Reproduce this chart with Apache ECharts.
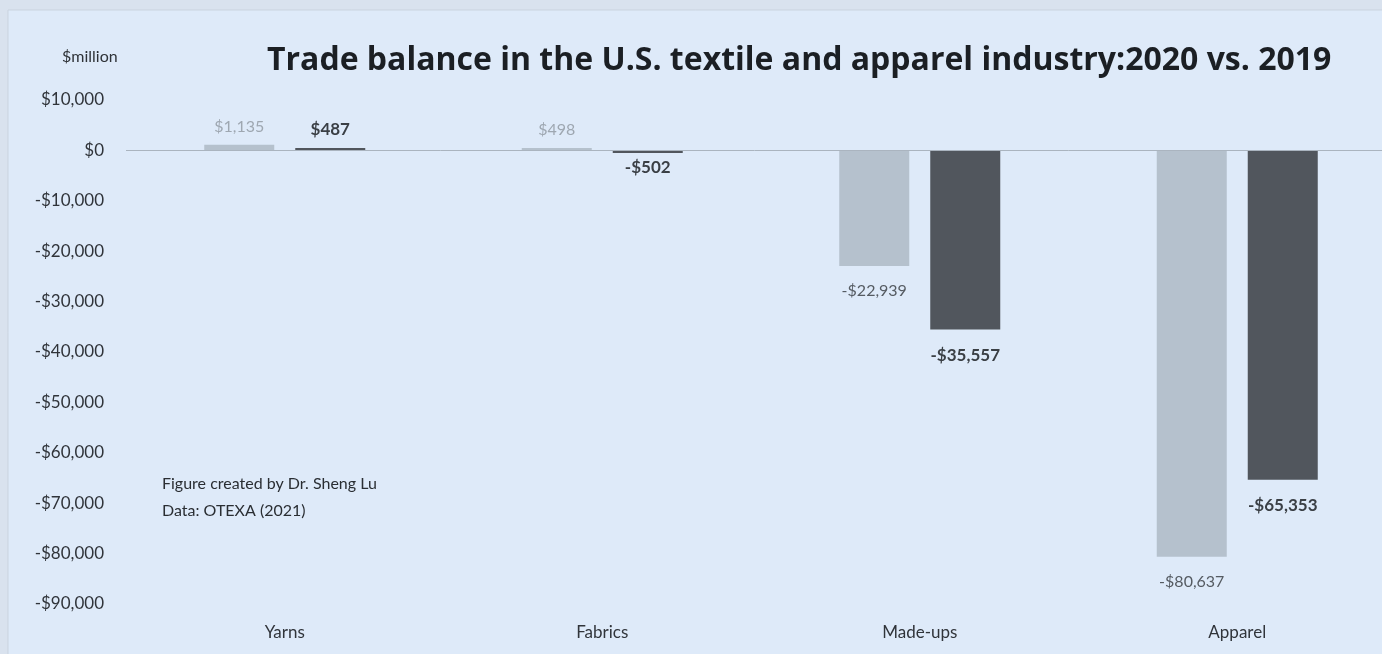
<!DOCTYPE html>
<html>
<head>
<meta charset="utf-8">
<script src="https://cdn.jsdelivr.net/npm/echarts@6/dist/echarts.min.js"></script>
<style>
  html, body { margin: 0; padding: 0; background: #d9e2ee; }
  #chart { width: 1382px; height: 654px; }
</style>
</head>
<body>
<div id="chart"></div>
<script>
// Trade balance by segment, $ million
const categories = ['Yarns', 'Fabrics', 'Made-ups', 'Apparel'];
const balance2019 = [1135, 498, -22939, -80637];
const balance2020 = [487, -502, -35557, -65353];
const yTickMin = -90000;
const yTickMax = 10000;
const yTickStep = 10000;

const FONT = 'Lato, "Open Sans", sans-serif';

function money(v) {
  const s = '$' + Math.abs(v).toLocaleString('en-US');
  return v < 0 ? '-' + s : s;
}

// value labels sit outside the bar end; tiny bars get a tighter gap
function withLabels(values, lightSeries) {
  return values.map(v => {
    const small = Math.abs(v) < 5000;
    return {
      value: v,
      label: {
        position: v >= 0 ? 'top' : 'bottom',
        distance: small ? (v >= 0 ? 10 : 6) : 17,
        color: lightSeries ? (small ? '#9ea7b1' : '#555b62') : '#3a3f45'
      }
    };
  });
}

const chart = echarts.init(document.getElementById('chart'), null, { renderer: 'canvas' });

chart.setOption({
  backgroundColor: '#d9e2ee',
  animation: false,
  graphic: [
    {
      type: 'rect',
      z: -10,
      shape: { x: 8, y: 10, width: 1380, height: 650 },
      style: { fill: '#deeaf9', stroke: '#c9d3df', lineWidth: 1 }
    },
    {
      type: 'text',
      left: 62, top: 49,
      style: { text: '$million', font: '16px ' + FONT, fill: '#2f3338' }
    },
    {
      type: 'text',
      left: 162, top: 470,
      style: {
        text: 'Figure created by Dr. Sheng Lu\nData: OTEXA (2021)',
        font: '16px ' + FONT, fill: '#2a2e33', lineHeight: 27
      }
    }
  ],
  title: {
    text: 'Trade balance in the U.S. textile and apparel industry:2020 vs. 2019',
    left: 262, top: 40,
    textStyle: { fontFamily: '"Open Sans", Lato, sans-serif', fontWeight: 'bold', fontSize: 32, color: '#1b1f24' }
  },
  // the plot runs a little past the right edge of the canvas
  grid: { left: 126, width: 1270, top: 100, bottom: 50, outerBoundsMode: 'none', containLabel: false },
  xAxis: {
    type: 'category',
    data: categories,
    axisLine: { show: false, onZero: false },
    axisTick: { show: false },
    axisLabel: { margin: 20, fontFamily: FONT, fontSize: 17, color: '#30343a' }
  },
  yAxis: {
    type: 'value',
    min: yTickMin, max: yTickMax, interval: yTickStep,
    splitLine: { show: false },
    axisLine: { show: false },
    axisTick: { show: false },
    axisLabel: {
      margin: 22, fontFamily: FONT, fontSize: 17, color: '#30343a',
      formatter: money
    }
  },
  series: [
    {
      name: '2019',
      type: 'bar',
      barWidth: 70,
      barGap: '30%',
      itemStyle: { color: '#b5c1cd' },
      label: {
        show: true, fontFamily: FONT, fontSize: 16,
        formatter: p => money(p.value)
      },
      data: withLabels(balance2019, true),
      markLine: {
        silent: true,
        symbol: 'none',
        label: { show: false },
        lineStyle: { color: '#aab4bf', width: 1, type: 'solid' },
        data: [{ yAxis: 0 }]
      }
    },
    {
      name: '2020',
      type: 'bar',
      barWidth: 70,
      itemStyle: { color: '#51565d' },
      label: {
        show: true, fontFamily: FONT, fontSize: 17, fontWeight: 'bold',
        formatter: p => money(p.value)
      },
      data: withLabels(balance2020, false)
    }
  ]
});
</script>
</body>
</html>
